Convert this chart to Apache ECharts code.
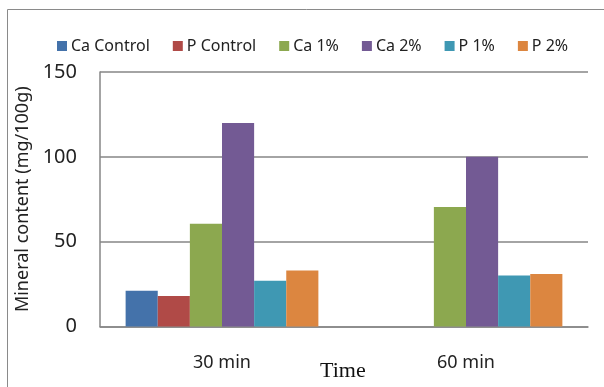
<!DOCTYPE html>
<html>
<head>
<meta charset="utf-8">
<script src="https://cdn.jsdelivr.net/npm/echarts@6/dist/echarts.min.js"></script>
<style>
html,body{margin:0;padding:0;background:#fff;}
#chart{width:604px;height:387px;}
</style>
</head>
<body>
<div id="chart"></div>
<script>
var categories = ['30 min', '60 min'];
var caControl = [21, null];
var pControl = [18, null];
var ca1 = [60.5, 70.5];
var ca2 = [120, 100];
var p1 = [27, 30];
var p2 = [33, 31];
var seriesNames = ['Ca Control', 'P Control', 'Ca 1%', 'Ca 2%', 'P 1%', 'P 2%'];
var yTicks = [0, 50, 100, 150];

var colors = ['#4472AA', '#B04A47', '#8CA84F', '#735A94', '#3F98B3', '#DC8640'];
var seriesData = [caControl, pControl, ca1, ca2, p1, p2];

var chart = echarts.init(document.getElementById('chart'));
chart.setOption({
  animation: false,
  color: colors,
  graphic: [{
    type: 'rect',
    shape: {x: 7.5, y: 9.5, width: 700, height: 500},
    style: {fill: 'none', stroke: '#8a8a8a', lineWidth: 1},
    silent: true
  }, {
    type: 'text',
    left: 320, top: 360,
    style: {text: 'Time', font: '22px "Liberation Serif"', fill: '#111'}
  }],
  legend: {
    data: seriesNames,
    left: 57, top: 38, padding: 0,
    itemWidth: 10, itemHeight: 10, itemGap: 23,
    icon: 'rect',
    textStyle: {fontFamily: 'Noto Sans', fontSize: 16, color: '#222', padding: [0, 0, 0, -1]}
  },
  grid: {left: 100, top: 72, right: 16, bottom: 60.5},
  xAxis: {
    type: 'category',
    data: categories,
    axisLine: {lineStyle: {color: '#868686', width: 1.5}},
    axisTick: {show: false},
    axisLabel: {fontFamily: 'Noto Sans', fontSize: 18, color: '#222', margin: 27}
  },
  yAxis: {
    type: 'value',
    min: 0, max: 150, interval: 50,
    name: 'Mineral content (mg/100g)',
    nameLocation: 'middle',
    nameGap: 63,
    nameTextStyle: {fontFamily: 'Noto Sans', fontSize: 18, color: '#222'},
    axisLine: {show: true, lineStyle: {color: '#868686', width: 1.5}},
    axisTick: {show: false},
    splitLine: {lineStyle: {color: '#868686', width: 1.5}},
    axisLabel: {fontFamily: 'Noto Sans', fontSize: 20, color: '#222', margin: 23,
      formatter: function (v) { return yTicks.indexOf(v) >= 0 ? String(v) : ''; }}
  },
  series: seriesNames.map(function (n, i) {
    return {
      name: n, type: 'bar', data: seriesData[i],
      barGap: '0%', barCategoryGap: '21%'
    };
  })
});
</script>
</body>
</html>
